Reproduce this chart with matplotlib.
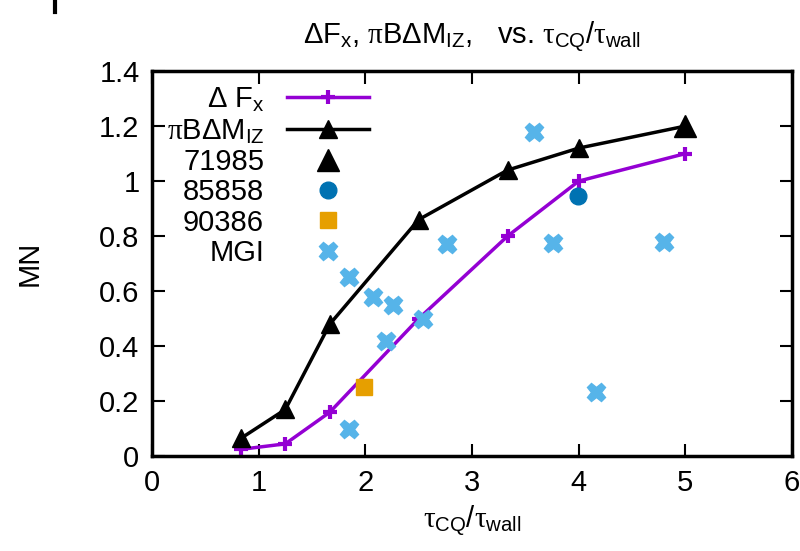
import matplotlib
matplotlib.use('Agg')
import matplotlib.pyplot as plt
from matplotlib.lines import Line2D

plt.rcParams['font.family'] = ['Liberation Sans', 'DejaVu Sans']
plt.rcParams['mathtext.fontset'] = 'custom'
plt.rcParams['mathtext.rm'] = 'Liberation Sans'
plt.rcParams['mathtext.it'] = 'Liberation Serif'
plt.rcParams['mathtext.cal'] = 'Liberation Sans'

# tau_CQ / tau_wall for the model curves
x_model = [5/6, 1.25, 5/3, 2.5, 10/3, 4.0, 5.0]
dFx = [0.025, 0.045, 0.16, 0.50, 0.80, 1.0, 1.10]
piBdM = [0.065, 0.17, 0.48, 0.86, 1.04, 1.12, 1.20]

# shots
x_71985 = [5.0]
y_71985 = [1.20]
x_85858 = [3.99]
y_85858 = [0.945]
x_90386 = [1.99]
y_90386 = [0.25]
x_mgi = [1.85, 1.85, 2.07, 2.19, 2.26, 2.54, 2.77, 3.58, 3.76, 4.16, 4.80]
y_mgi = [0.10, 0.65, 0.58, 0.42, 0.55, 0.50, 0.77, 1.18, 0.775, 0.234, 0.78]

fs = 21

fig = plt.figure(figsize=(8.0, 5.51), dpi=100)
ax = fig.add_axes([0.19, 0.172, 0.80, 0.699])

ax.plot(x_model, dFx, color='#9400D3', lw=2.5, marker='+', ms=10, mew=3,
        label=r'$\Delta\ \rm F_x$')
ax.plot(x_model, piBdM, color='black', lw=2.5, marker='^', ms=13,
        label=r'$\pi\rm B\Delta M_{IZ}$')
ax.plot(x_71985, y_71985, ls='none', color='black', marker='^', ms=16, label='71985')
ax.plot(x_85858, y_85858, ls='none', color='#0072B2', marker='o', ms=12, label='85858')
ax.plot(x_90386, y_90386, ls='none', color='#E69F00', marker='s', ms=11, label='90386')
ax.plot(x_mgi, y_mgi, ls='none', color='#56B4E9', marker='X', ms=13, mec='#56B4E9',
        label='MGI')

ax.set_xlim(0, 6)
ax.set_ylim(0, 1.4)
ax.set_xticks([0, 1, 2, 3, 4, 5, 6])
ax.set_yticks([0, 0.2, 0.4, 0.6, 0.8, 1.0, 1.2, 1.4])
ax.set_yticklabels(['0', '0.2', '0.4', '0.6', '0.8', '1', '1.2', '1.4'])
ax.tick_params(direction='in', length=9, width=1.5, top=True, right=True,
               labelsize=fs, pad=9)
for s in ax.spines.values():
    s.set_linewidth(2.5)

ax.set_xlabel(r'$\tau_{\rm CQ}/\tau_{\rm wall}$', fontsize=fs, labelpad=5)
ax.set_ylabel('MN', fontsize=fs, labelpad=40)
ax.set_title(r'$\Delta\rm F_x$, $\pi\rm B\Delta M_{IZ}$,   vs. $\tau_{\rm CQ}/\tau_{\rm wall}$',
             fontsize=fs, pad=20)

leg = ax.legend(loc='upper left', markerfirst=False, frameon=False, fontsize=fs,
                handlelength=2.8, labelspacing=0.08, handletextpad=0.8,
                borderaxespad=0.1, bbox_to_anchor=(0.0, 1.0))

fig.add_artist(Line2D([0.069, 0.069], [0.978, 1.0], color='black', lw=3))

fig.savefig('out.png', dpi=100)
